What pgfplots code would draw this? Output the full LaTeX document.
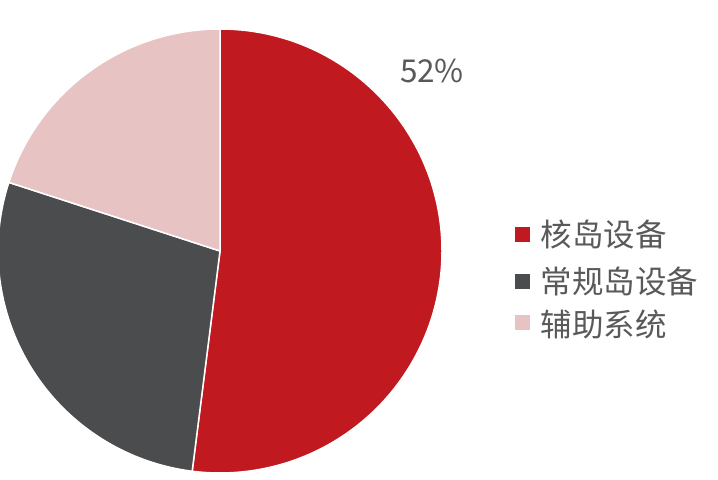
\documentclass[border=0pt]{standalone}
\usepackage{pgfplots}
\pgfplotsset{compat=1.18}
\usepackage{fontspec}
\setmainfont{Noto Sans CJK SC}
\definecolor{cA}{HTML}{C0191F}
\definecolor{cB}{HTML}{4B4C4E}
\definecolor{cC}{HTML}{E8C3C4}
\definecolor{txt}{HTML}{595959}
% data (percent)
\def\vA{52}\def\vB{28}\def\vC{20}
\pgfmathsetmacro{\aA}{90}
\pgfmathsetmacro{\aB}{90-3.6*\vA}
\pgfmathsetmacro{\aC}{\aB-3.6*\vB}
\pgfmathsetmacro{\aD}{\aC-3.6*\vC}
\begin{document}
\begin{tikzpicture}
\begin{axis}[scale only axis, width=718bp, height=480bp,
  xmin=0, xmax=718, ymin=0, ymax=480, axis lines=none, clip=true]
\filldraw[fill=cA, draw=white, line width=1.5bp] (axis cs:220,229) -- ++(\aA:222bp) arc[start angle=\aA, end angle=\aB, radius=222bp] -- cycle;
\filldraw[fill=cB, draw=white, line width=1.5bp] (axis cs:220,229) -- ++(\aB:222bp) arc[start angle=\aB, end angle=\aC, radius=222bp] -- cycle;
\filldraw[fill=cC, draw=white, line width=1.5bp] (axis cs:220,229) -- ++(\aC:222bp) arc[start angle=\aC, end angle=\aD, radius=222bp] -- cycle;
\node[text=txt, font=\fontsize{31.5bp}{36bp}\selectfont] at (axis cs:432,409) {52\%};
\fill[cA] (axis cs:515,238) rectangle (axis cs:530,253);
\node[anchor=west, text=txt, font=\fontsize{31.5bp}{36bp}\selectfont] at (axis cs:537,245) {核岛设备};
\fill[cB] (axis cs:515,191) rectangle (axis cs:530,206);
\node[anchor=west, text=txt, font=\fontsize{31.5bp}{36bp}\selectfont] at (axis cs:537,198) {常规岛设备};
\fill[cC] (axis cs:515,150) rectangle (axis cs:530,165);
\node[anchor=west, text=txt, font=\fontsize{31.5bp}{36bp}\selectfont] at (axis cs:537,156) {辅助系统};
\end{axis}
\pgfresetboundingbox
\path[use as bounding box] (0,0) rectangle (718bp,480bp);
\end{tikzpicture}
\end{document}
